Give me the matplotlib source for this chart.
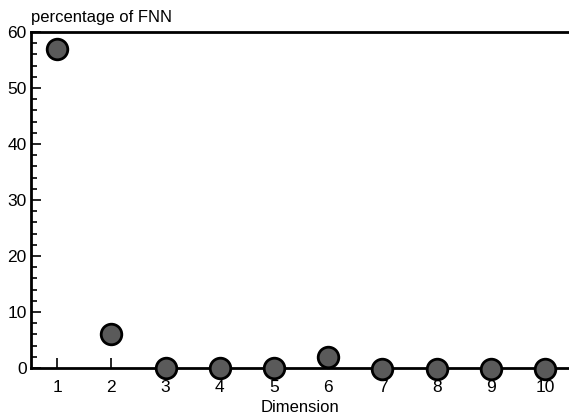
import matplotlib
matplotlib.use("Agg")
import matplotlib.pyplot as plt
from matplotlib.ticker import MultipleLocator

plt.rcParams['font.family'] = ['Liberation Sans', 'DejaVu Sans']

dimension = [1, 2, 3, 4, 5, 6, 7, 8, 9, 10]
fnn_pct = [57, 6, 0, 0, 0, 2, -0.2, -0.2, -0.2, -0.2]

fig = plt.figure(figsize=(5.69, 4.16), dpi=100)
ax = fig.add_axes([0.0545, 0.1154, 0.9455, 0.8077])

ax.scatter(dimension, fnn_pct, s=220, facecolor='#5a5a5a', edgecolor='black',
           linewidth=2, zorder=5, clip_on=False)

ax.set_xlim(0.52, 10.44)
ax.set_ylim(0, 60)
ax.set_xticks(dimension)
ax.yaxis.set_major_locator(MultipleLocator(10))
ax.yaxis.set_minor_locator(MultipleLocator(2))
ax.tick_params(axis='both', which='both', direction='in', labelsize=12.5, width=1.2)
ax.tick_params(axis='y', which='major', length=7, pad=3)
ax.tick_params(axis='y', which='minor', length=4)
ax.tick_params(axis='x', which='major', length=7, pad=9)

for side in ['left', 'bottom', 'top']:
    ax.spines[side].set_linewidth(2)
ax.spines['right'].set_visible(False)

ax.set_xlabel('Dimension', fontsize=12, labelpad=3)
fig.text(0.055, 0.957, 'percentage of FNN', fontsize=12, ha='left', va='center')

fig.savefig('out.png', dpi=100)
